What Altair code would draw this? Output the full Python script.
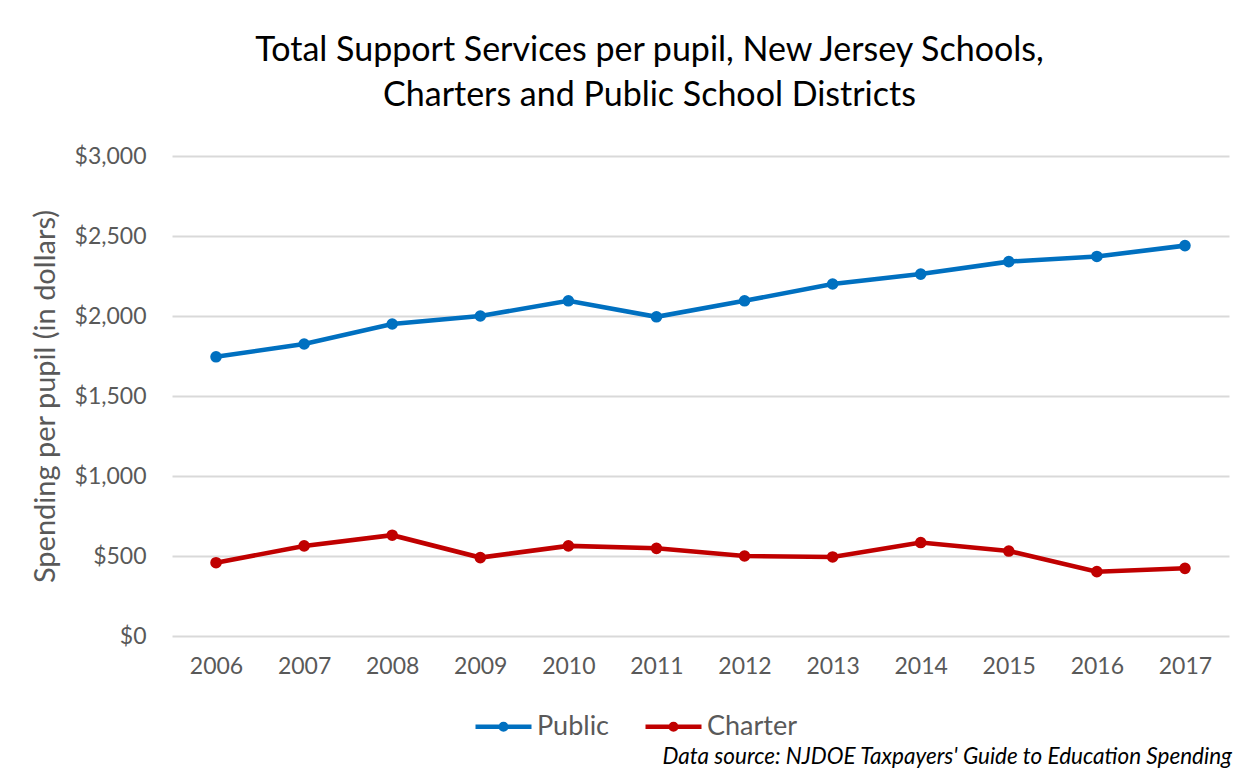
import altair as alt
import pandas as pd

years = [2006, 2007, 2008, 2009, 2010, 2011, 2012, 2013, 2014, 2015, 2016, 2017]
public = [1745, 1825, 1950, 2000, 2095, 1995, 2095, 2200, 2262, 2340, 2372, 2440]
charter = [458, 563, 630, 490, 563, 548, 500, 494, 584, 531, 402, 423]
series = ["Public", "Charter"]
colors = ["#0070C0", "#C00000"]
y_ticks = [0, 500, 1000, 1500, 2000, 2500, 3000]
title_lines = ["Total Support Services per pupil, New Jersey Schools,",
               "Charters and Public School Districts"]
y_title = "Spending per pupil (in dollars)"
source_note = "Data source: NJDOE Taxpayers' Guide to Education Spending"

rows = []
for y, p, c in zip(years, public, charter):
    rows.append({"year": y, "series": "Public", "value": p})
    rows.append({"year": y, "series": "Charter", "value": c})
df = pd.DataFrame(rows)

FONT = "Lato"
W, H = 1057, 480

lines = alt.Chart(df).mark_line(
    strokeWidth=4.6,
    point=alt.OverlayMarkDef(size=135, filled=True, opacity=1),
).encode(
    x=alt.X("year:O", scale=alt.Scale(type="point", padding=0.5),
            axis=alt.Axis(title=None, labelAngle=0, ticks=False, domain=False,
                          labelFontSize=23, labelColor="#595959", labelFont=FONT,
                          labelPadding=19, grid=False)),
    y=alt.Y("value:Q", scale=alt.Scale(domain=[0, 3000]),
            axis=alt.Axis(values=y_ticks, format="$,.0f", title=y_title,
                          titleFontSize=29, titleColor="#595959", titleFont=FONT,
                          titleFontWeight="normal", titlePadding=14,
                          labelFontSize=23, labelColor="#595959", labelFont=FONT,
                          labelPadding=26, ticks=False, domain=False,
                          grid=True, gridColor="#D9D9D9", gridWidth=1.8)),
    color=alt.Color("series:N", scale=alt.Scale(domain=series, range=colors),
                    legend=alt.Legend(title=None, orient="none", direction="horizontal",
                                      legendX=301, legendY=540,
                                      symbolType="M-1,0L1,0M-0.1,0A0.1,0.1,0,1,0,0.1,0A0.1,0.1,0,1,0,-0.1,0",
                                      symbolSize=3136, symbolStrokeWidth=4.6,
                                      labelFontSize=27, labelColor="#595959", labelFont=FONT,
                                      labelOffset=3, columnPadding=26)),
)

note = alt.Chart(pd.DataFrame({"t": [source_note]})).mark_text(
    align="right", baseline="middle", fontSize=22.5, fontStyle="italic",
    font=FONT, color="#000000",
).encode(x=alt.value(W + 3), y=alt.value(601), text="t:N")

chart = alt.layer(lines, note).properties(
    width=W, height=H,
    padding={"left": 23, "top": 26, "right": 10, "bottom": 0},
    title=alt.TitleParams(text=title_lines, fontSize=34, font=FONT, fontWeight="normal",
                          color="#000000", anchor="middle", dx=-51, offset=32,
                          lineHeight=45),
).configure_view(stroke=None).configure_point(size=135)

chart.save("out.html", embed_options={"renderer": "svg", "actions": False})
